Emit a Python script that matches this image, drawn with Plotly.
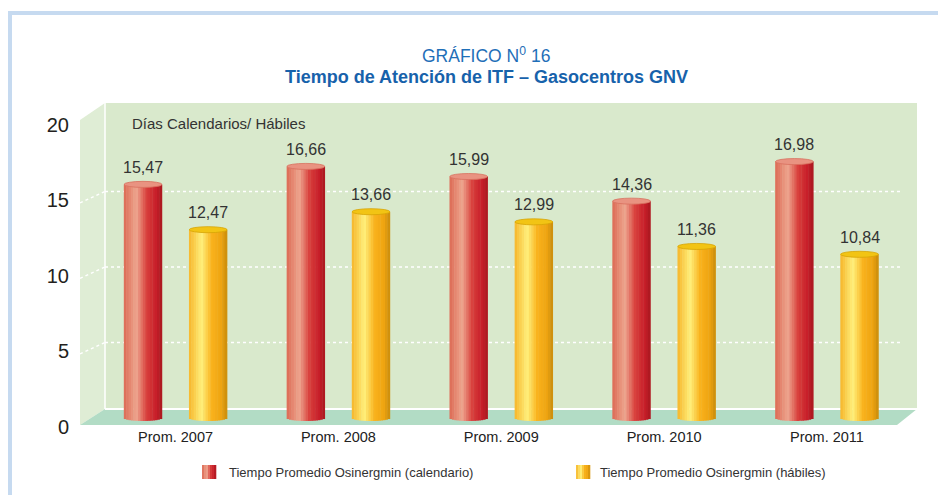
import plotly.graph_objects as go

# ---------------- data ----------------
categories = ["Prom. 2007", "Prom. 2008", "Prom. 2009", "Prom. 2010", "Prom. 2011"]
calendario = [15.47, 16.66, 15.99, 14.36, 16.98]
habiles = [12.47, 13.66, 12.99, 11.36, 10.84]
y_ticks = [0, 5, 10, 15, 20]
series_names = ["Tiempo Promedio Osinergmin (calendario)", "Tiempo Promedio Osinergmin (hábiles)"]

# ---------------- style ----------------
W, H = 946, 495
L, R, T, B = 80, 917, 103, 426          # plot area in screen pixels
PAGE_OFF = 8                            # default body margin of the html page
FONT = "Liberation Sans, Arial, sans-serif"

def px_x(px):
    return (px - L) / (R - L)

def px_y(py):
    return (B - py) / (B - T)

red_stops = ["#dc6a55", "#eea68f", "#d8403c", "#c81e2a", "#a8181f"]
yel_stops = ["#f6b52a", "#fff07c", "#f9b21c", "#eea411", "#c88c0c"]
stop_pos = [0.0, 0.33, 0.6, 0.85, 1.0]

def hex2rgb(h):
    h = h.lstrip("#")
    return tuple(int(h[i:i + 2], 16) for i in (0, 2, 4))

def grad(stops, t):
    for i in range(len(stop_pos) - 1):
        if stop_pos[i] <= t <= stop_pos[i + 1]:
            f = (t - stop_pos[i]) / (stop_pos[i + 1] - stop_pos[i])
            a, b = hex2rgb(stops[i]), hex2rgb(stops[i + 1])
            c = [round(a[j] + (b[j] - a[j]) * f) for j in range(3)]
            return f"rgb({c[0]},{c[1]},{c[2]})"
    return stops[-1]

bar_w = 0.233          # bar width in category units
offset = 0.2           # distance of each bar from its category centre
ell = 0.2              # half height of cylinder ellipse (data units)
N = 16                 # strips per bar for the cylinder shading

fig = go.Figure()
xs = list(range(len(categories)))

for vals, stops, off in ((calendario, red_stops, -offset), (habiles, yel_stops, offset)):
    sw = bar_w / N
    for k in range(N):
        t = (k + 0.5) / N
        u = 2 * t - 1
        base = -ell * (1 - u * u) ** 0.5
        fig.add_trace(go.Bar(
            x=[x + off - bar_w / 2 + (k + 0.5) * sw for x in xs],
            y=[v - base for v in vals],
            base=[base] * len(vals),
            width=sw * 1.2,
            marker=dict(color=grad(stops, t), line=dict(width=0)),
            showlegend=False, hoverinfo="skip",
        ))

shapes = []

# page border
shapes.append(dict(type="rect", xref="paper", yref="paper",
                   x0=px_x(7), x1=px_x(12), y0=px_y(500), y1=px_y(11),
                   fillcolor="#c6daf0", line=dict(width=0), layer="below"))
shapes.append(dict(type="rect", xref="paper", yref="paper",
                   x0=px_x(7), x1=px_x(960), y0=px_y(15), y1=px_y(11),
                   fillcolor="#c6daf0", line=dict(width=0), layer="below"))

wall = "#d9e9cc"
# back wall
shapes.append(dict(type="rect", xref="paper", yref="paper",
                   x0=px_x(105), x1=px_x(917), y0=px_y(409), y1=px_y(103),
                   fillcolor=wall, line=dict(width=0), layer="below"))
# side wall
shapes.append(dict(type="path", xref="paper", yref="paper",
                   path=f"M {px_x(80)},{px_y(120)} L {px_x(105)},{px_y(103)} L {px_x(105)},{px_y(409)} L {px_x(80)},{px_y(425)} Z",
                   fillcolor="#dfedd5", line=dict(width=0), layer="below"))
# floor
shapes.append(dict(type="path", xref="paper", yref="paper",
                   path=f"M {px_x(80)},{px_y(425)} L {px_x(105)},{px_y(409)} L {px_x(917)},{px_y(409)} L {px_x(897)},{px_y(425)} Z",
                   fillcolor="#b2dcc5", line=dict(width=0), layer="below"))
# white edges
shapes.append(dict(type="line", xref="paper", yref="paper",
                   x0=px_x(105), x1=px_x(917), y0=px_y(409), y1=px_y(409),
                   line=dict(color="white", width=2), layer="below"))
shapes.append(dict(type="line", xref="paper", yref="paper",
                   x0=px_x(105), x1=px_x(105), y0=px_y(409), y1=px_y(103),
                   line=dict(color="white", width=1.5), layer="below"))

# gridlines on wall + side wall
for t in y_ticks[1:-1]:
    shapes.append(dict(type="line", xref="paper", yref="y",
                       x0=px_x(105), x1=px_x(900), y0=t, y1=t,
                       line=dict(color="white", width=1.5, dash="dot"), layer="below"))
    shapes.append(dict(type="line", xref="paper", yref="y",
                       x0=0, x1=px_x(105), y0=t - 0.75, y1=t,
                       line=dict(color="white", width=1.5, dash="dot"), layer="below"))

# cylinder tops
for vals, fill, edge, off in ((calendario, "#e99381", "#d8705e", -offset),
                              (habiles, "#f2c414", "#d7a406", offset)):
    for x, v in zip(xs, vals):
        shapes.append(dict(type="circle", xref="x", yref="y",
                           x0=x + off - bar_w / 2, x1=x + off + bar_w / 2,
                           y0=v - ell, y1=v + ell,
                           fillcolor=fill, line=dict(color=edge, width=0.8)))

annotations = []
for vals, off in ((calendario, -offset), (habiles, offset)):
    for x, v in zip(xs, vals):
        annotations.append(dict(x=x + off, y=v, xref="x", yref="y",
                                text=f"{v:.2f}".replace(".", ","), showarrow=False,
                                yshift=17, yanchor="middle",
                                font=dict(family=FONT, size=16, color="#333333")))

# titles
annotations.append(dict(x=px_x(486), y=px_y(55), xref="paper", yref="paper",
                        text="GRÁFICO N<sup>0</sup> 16", showarrow=False,
                        xanchor="center", yanchor="middle",
                        font=dict(family=FONT, size=17.5, color="#1f6fb8")))
annotations.append(dict(x=px_x(486), y=px_y(77), xref="paper", yref="paper",
                        text="<b>Tiempo de Atención de ITF – Gasocentros GNV</b>", showarrow=False,
                        xanchor="center", yanchor="middle",
                        font=dict(family=FONT, size=18, color="#1762ab")))
annotations.append(dict(x=px_x(130), y=px_y(123), xref="paper", yref="paper",
                        text="Días Calendarios/ Hábiles", showarrow=False,
                        xanchor="left", yanchor="middle",
                        font=dict(family=FONT, size=15, color="#333333")))

# legend
for (sx, tx), name, stops in (((202, 227), series_names[0], red_stops),
                              ((576, 598), series_names[1], yel_stops)):
    n = 7
    for k in range(n):
        shapes.append(dict(type="rect", xref="paper", yref="paper",
                           x0=px_x(sx + 14 * k / n), x1=px_x(sx + 14 * (k + 1) / n + 0.3),
                           y0=px_y(479), y1=px_y(465),
                           fillcolor=grad(stops, (k + 0.5) / n), line=dict(width=0)))
    annotations.append(dict(x=px_x(tx), y=px_y(472), xref="paper", yref="paper",
                            text=name, showarrow=False, xanchor="left", yanchor="middle",
                            font=dict(family=FONT, size=13, color="#333333")))

fig.update_layout(
    width=W, height=H,
    margin=dict(l=L - PAGE_OFF, r=W - (R - PAGE_OFF), t=T - PAGE_OFF, b=H - (B - PAGE_OFF),
                autoexpand=False),
    paper_bgcolor="white", plot_bgcolor="rgba(0,0,0,0)",
    barmode="overlay", showlegend=False,
    shapes=shapes, annotations=annotations,
    xaxis=dict(range=[-0.587, 4.553], tickvals=xs, ticktext=categories,
               showgrid=False, zeroline=False, showline=False, ticks="",
               tickfont=dict(family=FONT, size=14.5, color="#222222"), fixedrange=True),
    yaxis=dict(range=[-0.53, 20.86], tickvals=y_ticks, ticktext=[str(t) for t in y_ticks],
               showgrid=False, zeroline=False, showline=False, ticks="",
               ticklabelshift=9, ticklabelstandoff=10,
               tickfont=dict(family=FONT, size=20, color="#231f20"), fixedrange=True),
)

fig.write_html("out.html")
